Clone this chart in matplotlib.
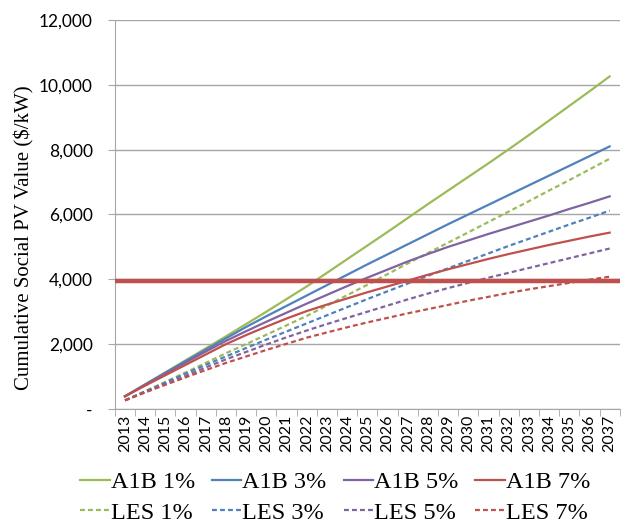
import matplotlib.pyplot as plt
from matplotlib.ticker import FuncFormatter, FixedLocator

years = [str(y) for y in range(2013, 2038)]

# cumulative social PV value ($/kW)
a1b_1 = [390, 760, 1130, 1500, 1870, 2240, 2620, 3000, 3390, 3780, 4200, 4620, 5040,
         5460, 5890, 6320, 6740, 7160, 7580, 8010, 8450, 8900, 9350, 9800, 10260]
a1b_3 = [390, 755, 1115, 1475, 1830, 2180, 2530, 2860, 3180, 3500, 3820, 4140, 4460,
         4770, 5080, 5390, 5700, 6000, 6300, 6600, 6900, 7200, 7500, 7800, 8100]
a1b_5 = [390, 745, 1090, 1430, 1770, 2100, 2400, 2690, 2970, 3250, 3520, 3790, 4050,
         4300, 4550, 4780, 5000, 5200, 5400, 5590, 5780, 5970, 6170, 6360, 6560]
a1b_7 = [390, 720, 1040, 1360, 1680, 2000, 2280, 2540, 2790, 3020, 3220, 3410, 3600,
         3780, 3960, 4140, 4310, 4470, 4630, 4780, 4920, 5060, 5190, 5320, 5440]
les_1 = [265, 550, 835, 1125, 1420, 1720, 2000, 2290, 2580, 2870, 3190, 3510, 3830,
         4160, 4490, 4810, 5130, 5450, 5770, 6090, 6410, 6740, 7060, 7390, 7720]
les_3 = [265, 540, 815, 1090, 1360, 1620, 1880, 2140, 2390, 2640, 2890, 3140, 3390,
         3630, 3870, 4110, 4340, 4570, 4800, 5030, 5250, 5470, 5690, 5900, 6120]
les_5 = [265, 520, 770, 1020, 1280, 1530, 1760, 1990, 2210, 2420, 2620, 2810, 3000,
         3190, 3380, 3560, 3730, 3890, 4050, 4200, 4350, 4500, 4650, 4800, 4950]
les_7 = [265, 510, 745, 975, 1200, 1420, 1620, 1820, 2010, 2200, 2360, 2520, 2670,
         2810, 2950, 3080, 3210, 3340, 3460, 3580, 3690, 3790, 3890, 3990, 4080]
threshold = 3940

labels = ['1%', '3%', '5%', '7%']
colors = ['#9BBB59', '#4F81BD', '#8064A2', '#C0504D']
a1b = [a1b_1, a1b_3, a1b_5, a1b_7]
les = [les_1, les_3, les_5, les_7]

fig = plt.figure(figsize=(6.21, 5.27), dpi=100)
ax = fig.add_axes([0.185, 0.224, 0.813, 0.738])

x = list(range(len(years)))
handles = []
for lab, c, s1, s2 in zip(labels, colors, a1b, les):
    h1, = ax.plot(x, s1, color=c, lw=1.6, label='A1B ' + lab)
    h2, = ax.plot(x, s2, color=c, lw=1.6, ls=(0, (2.2, 1.4)), label='LES ' + lab)
    handles += [h1, h2]

ax.axhline(threshold, color='#C0504D', lw=3.2, zorder=5)

ax.set_xlim(-0.5, len(years) - 0.5)
ax.set_ylim(0, 12000)
ax.set_yticks(range(0, 12001, 2000))
ax.yaxis.set_major_formatter(FuncFormatter(lambda v, p: '-' if v == 0 else f'{int(v):,}'))
ax.grid(axis='y', color='#A6A6A6', lw=1)
ax.set_axisbelow(True)

ax.set_xticks(x)
ax.set_xticklabels(years, rotation=90, fontsize=11.5, family='Lato')
ax.xaxis.set_minor_locator(FixedLocator([i - 0.5 for i in range(len(years) + 1)]))
ax.tick_params(axis='x', which='major', length=0, pad=4)
ax.tick_params(axis='x', which='minor', length=5, color='#A6A6A6')
ax.tick_params(axis='y', length=5, color='#A6A6A6', labelsize=12.5, pad=11)
for t in ax.get_yticklabels():
    t.set_family('Lato')

for sp in ['top', 'right']:
    ax.spines[sp].set_visible(False)
for sp in ['left', 'bottom']:
    ax.spines[sp].set_color('#A6A6A6')

ax.set_ylabel('Cumulative Social PV Value ($/kW)', family='Liberation Serif', fontsize=15)
ax.yaxis.set_label_coords(-0.16, 0.44)

fig.legend(handles=handles, loc='lower center', bbox_to_anchor=(0.54, -0.035), ncol=4,
           frameon=False, prop={'family': 'Liberation Serif', 'size': 17.5},
           handlelength=1.2, handletextpad=0.05, columnspacing=0.7, labelspacing=0.35)

fig.savefig('out.png', dpi=100)
